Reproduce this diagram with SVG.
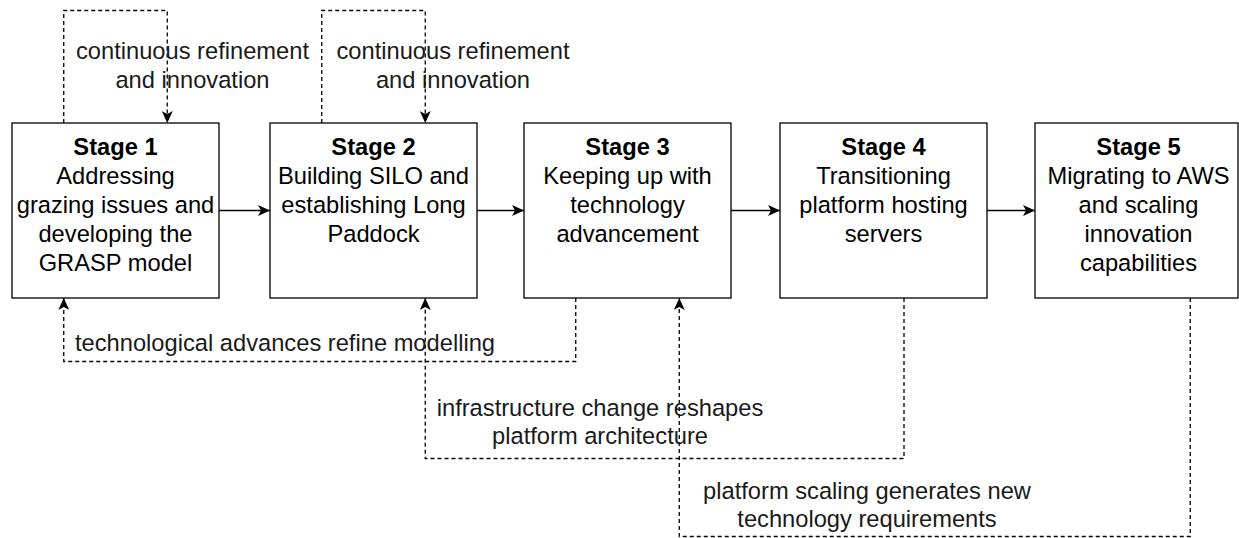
<svg xmlns="http://www.w3.org/2000/svg" width="1239" height="538" viewBox="0 0 1239 538">
<style>
.box{fill:#fff;stroke:#000;stroke-width:1.3}
.t{font-family:"Liberation Sans",Arial,Helvetica,sans-serif;font-size:23.7px;fill:#000;text-anchor:middle}
.b{font-weight:bold}
.lbl{font-family:"Liberation Sans",Arial,Helvetica,sans-serif;font-size:23.7px;fill:#1a1a1a;text-anchor:middle}
.solid{fill:none;stroke:#000;stroke-width:1.3}
.dash{fill:none;stroke:#000;stroke-width:1.3;stroke-dasharray:4 3}
</style>
<defs>
<marker id="arr" markerUnits="userSpaceOnUse" viewBox="0 0 12 11" markerWidth="12" markerHeight="11" refX="12" refY="5.5" orient="auto">
<path d="M0,0 L12,5.5 L0,11 L3,5.5 Z" fill="#000" stroke="none"/>
</marker>
</defs>
<g id="stage1">
<rect class="box" x="12" y="123" width="207" height="175"/>
<text class="t"><tspan class="b" x="115.5" y="155">Stage 1</tspan><tspan x="115.5" y="183.9">Addressing</tspan><tspan x="115.5" y="212.8">grazing issues and</tspan><tspan x="115.5" y="241.7">developing the</tspan><tspan x="115.5" y="270.6">GRASP model</tspan></text>
</g>
<g id="stage2">
<rect class="box" x="270" y="123" width="207" height="175"/>
<text class="t"><tspan class="b" x="373.5" y="155">Stage 2</tspan><tspan x="373.5" y="183.9">Building SILO and</tspan><tspan x="373.5" y="212.8">establishing Long</tspan><tspan x="373.5" y="241.7">Paddock</tspan></text>
</g>
<g id="stage3">
<rect class="box" x="524" y="123" width="207" height="175"/>
<text class="t"><tspan class="b" x="627.5" y="155">Stage 3</tspan><tspan x="627.5" y="183.9">Keeping up with</tspan><tspan x="627.5" y="212.8">technology</tspan><tspan x="627.5" y="241.7">advancement</tspan></text>
</g>
<g id="stage4">
<rect class="box" x="780" y="123" width="207" height="175"/>
<text class="t"><tspan class="b" x="883.5" y="155">Stage 4</tspan><tspan x="883.5" y="183.9">Transitioning</tspan><tspan x="883.5" y="212.8">platform hosting</tspan><tspan x="883.5" y="241.7">servers</tspan></text>
</g>
<g id="stage5">
<rect class="box" x="1035" y="123" width="203" height="175"/>
<text class="t"><tspan class="b" x="1138.5" y="155">Stage 5</tspan><tspan x="1138.5" y="183.9">Migrating to AWS</tspan><tspan x="1138.5" y="212.8">and scaling</tspan><tspan x="1138.5" y="241.7">innovation</tspan><tspan x="1138.5" y="270.6">capabilities</tspan></text>
</g>
<g id="connectors">
<path class="solid" d="M219,210.5 H270" marker-end="url(#arr)"/>
<path class="solid" d="M477,210.5 H524" marker-end="url(#arr)"/>
<path class="solid" d="M731,210.5 H780" marker-end="url(#arr)"/>
<path class="solid" d="M987,210.5 H1035" marker-end="url(#arr)"/>
<path class="dash" d="M63.75,123 V10.5 H167.25 V123" marker-end="url(#arr)"/>
<path class="dash" d="M321.75,123 V10.5 H425.25 V123" marker-end="url(#arr)"/>
<path class="dash" d="M575.75,298 V361.5 H63.75 V298" marker-end="url(#arr)"/>
<path class="dash" d="M904,298 V458.5 H425.25 V298" marker-end="url(#arr)"/>
<path class="dash" d="M1190.25,298 V536.5 H679.25 V298" marker-end="url(#arr)"/>
<text class="lbl"><tspan x="192.5" y="59">continuous refinement</tspan><tspan x="192.5" y="87.5">and innovation</tspan></text>
<text class="lbl"><tspan x="453" y="59">continuous refinement</tspan><tspan x="453" y="87.5">and innovation</tspan></text>
<text class="lbl" x="285" y="351">technological advances refine modelling</text>
<text class="lbl"><tspan x="600" y="416">infrastructure change reshapes</tspan><tspan x="600" y="444">platform architecture</tspan></text>
<text class="lbl"><tspan x="867" y="498.5">platform scaling generates new</tspan><tspan x="867" y="526.5">technology requirements</tspan></text>
</g>
</svg>
